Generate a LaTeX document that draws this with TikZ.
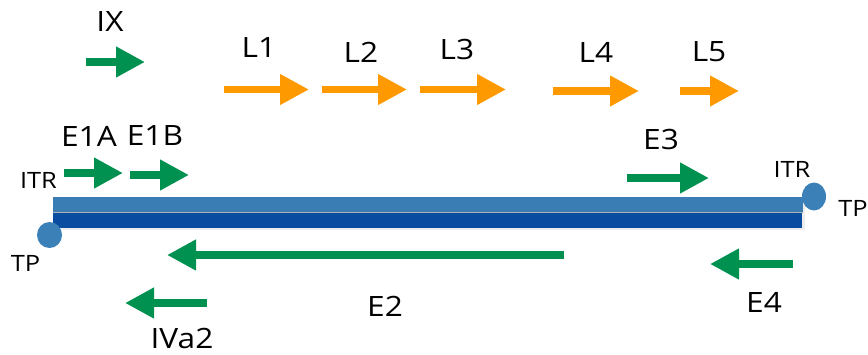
\documentclass[tikz,border=0pt]{standalone}
\usepackage{fontspec}
\setmainfont{Open Sans}[FakeStretch=1.13]
\usetikzlibrary{arrows.meta,shapes.geometric}
\definecolor{gengreen}{HTML}{00904F}
\definecolor{genorange}{HTML}{FF9900}
\definecolor{strandlight}{HTML}{3A7DB5}
\definecolor{stranddark}{HTML}{0A4C9F}
\definecolor{tpblue}{HTML}{3C80B8}
\tikzset{
  gene/.style={line width=7.4pt, -{Triangle[length=29pt,width=29pt]}},
  early/.style={gene, draw=gengreen, fill=gengreen},
  late/.style={gene, draw=genorange, fill=genorange},
  lbl/.style={inner sep=0pt, font=\fontsize{28}{30}\selectfont},
  smalllbl/.style={inner sep=0pt, font=\fontsize{22.5}{24}\selectfont},
}
\begin{document}
\begin{tikzpicture}[x=1pt,y=-1pt]
\useasboundingbox (0,0) rectangle (868,354);

% double-stranded genome with a faint shadow
\fill[black!20, opacity=0.35] (55,199) rectangle (805,230);
\fill[strandlight] (53,197) rectangle (803,212);
\fill[black!30] (53,212) rectangle (803,213);
\fill[stranddark] (53,213) rectangle (802,228);

% terminal proteins
\node[ellipse, fill=tpblue, minimum width=25pt, minimum height=26pt, inner sep=0pt] (tpL) at (49.5,235) {};
\node[ellipse, fill=tpblue, minimum width=24pt, minimum height=28pt, inner sep=0pt] (tpR) at (814,196.5) {};

% end labels
\node[smalllbl] (itrL) at (38.5,180.5) {ITR};
\node[smalllbl] (tpLl) at (25.5,263.5) {TP};
\node[smalllbl] (itrR) at (792,169) {ITR};
\node[smalllbl] (tpRl) at (853,208) {TP};

% transcription unit endpoints
\coordinate (ixs) at (86,62);   \coordinate (ixe) at (145,62);
\coordinate (l1s) at (224,89.5); \coordinate (l1e) at (309,89.5);
\coordinate (l2s) at (322,89.5); \coordinate (l2e) at (407,89.5);
\coordinate (l3s) at (420,89.5); \coordinate (l3e) at (506,89.5);
\coordinate (l4s) at (553,91);  \coordinate (l4e) at (639,91);
\coordinate (l5s) at (680,91);  \coordinate (l5e) at (739,91);
\coordinate (e1as) at (64,173); \coordinate (e1ae) at (123,173);
\coordinate (e1bs) at (130,175); \coordinate (e1be) at (189,175);
\coordinate (e3s) at (627,178); \coordinate (e3e) at (709,178);
\coordinate (e2s) at (564,255); \coordinate (e2e) at (167,255);
\coordinate (e4s) at (793,264); \coordinate (e4e) at (710,264);
\coordinate (ivs) at (207,303); \coordinate (ive) at (125,303);

% early transcripts
\draw[early] (ixs) -- (ixe);
\draw[early] (e1as) -- (e1ae);
\draw[early] (e1bs) -- (e1be);
\draw[early] (e3s) -- (e3e);
\draw[early] (e2s) -- (e2e);
\draw[early] (e4s) -- (e4e);
\draw[early] (ivs) -- (ive);

% late transcripts
\draw[late] (l1s) -- (l1e);
\draw[late] (l2s) -- (l2e);
\draw[late] (l3s) -- (l3e);
\draw[late] (l4s) -- (l4e);
\draw[late] (l5s) -- (l5e);

% gene labels
\node[lbl] (ix) at (110,22) {IX};
\node[lbl] (l1) at (259,47.5) {L1};
\node[lbl] (l2) at (361,52) {L2};
\node[lbl] (l3) at (457,49) {L3};
\node[lbl] (l4) at (596,52) {L4};
\node[lbl] (l5) at (709,52) {L5};
\node[lbl] (e1a) at (89,136) {E1A};
\node[lbl] (e1b) at (155,136) {E1B};
\node[lbl] (e3) at (661,139) {E3};
\node[lbl] (e2) at (385,306.5) {E2};
\node[lbl] (e4) at (764,302.5) {E4};
\node[lbl] (iva2) at (182,338) {IVa2};
\end{tikzpicture}
\end{document}
